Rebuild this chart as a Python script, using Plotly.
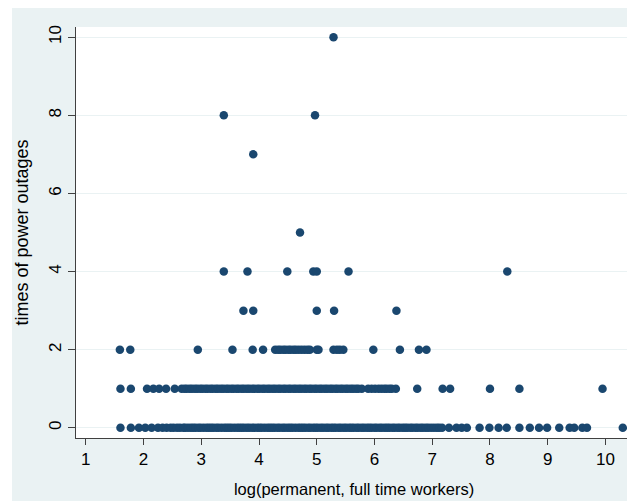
import plotly.graph_objects as go

# Data (x = log(permanent, full time workers), y = times of power outages)
x_y0 = [1.60, 1.78, 1.92, 2.03, 2.14, 2.25, 2.33, 2.40, 2.47, 2.52, 2.58, 2.63, 2.69, 2.72, 2.77,
        2.82, 2.86, 2.90, 2.95, 2.99, 3.04, 3.09, 3.13, 3.17, 3.21, 3.26, 3.30, 3.35, 3.40, 3.44,
        3.48, 3.52, 3.57, 3.62, 3.66, 3.70, 3.74, 3.79, 3.83, 3.88, 3.92, 3.97, 4.01, 4.05, 4.10,
        4.15, 4.19, 4.23, 4.27, 4.32, 4.36, 4.41, 4.45, 4.50, 4.54, 4.58, 4.63, 4.68, 4.72, 4.76,
        4.80, 4.85, 4.89, 4.94, 4.98, 5.02, 5.07, 5.11, 5.16, 5.20, 5.25, 5.29, 5.33, 5.38, 5.42,
        5.47, 5.51, 5.56, 5.60, 5.64, 5.69, 5.73, 5.78, 5.82, 5.87, 5.91, 5.95, 6.00, 6.04, 6.09,
        6.13, 6.18, 6.22, 6.26, 6.31, 6.35, 6.40, 6.44, 6.49, 6.53, 6.57, 6.62, 6.66, 6.71, 6.75,
        6.80, 6.84, 6.89, 6.93, 6.98, 7.03, 7.08, 7.12, 7.17, 7.29, 7.42, 7.51, 7.60, 7.82, 7.99,
        8.15, 8.29, 8.51, 8.69, 8.85, 8.99, 9.20, 9.38, 9.46, 9.60, 9.68, 10.30]

x_y1 = [1.60, 1.78, 2.06, 2.17, 2.27, 2.39, 2.54, 2.66, 2.71, 2.75, 2.80, 2.84, 2.89, 2.93,
        2.98, 3.02, 3.07, 3.11, 3.16, 3.20, 3.25, 3.29, 3.34, 3.38, 3.43, 3.47, 3.52, 3.56, 3.61,
        3.65, 3.70, 3.74, 3.79, 3.83, 3.88, 3.92, 3.97, 4.01, 4.06, 4.10, 4.15, 4.19, 4.24, 4.28,
        4.33, 4.37, 4.42, 4.46, 4.51, 4.55, 4.60, 4.64, 4.69, 4.73, 4.78, 4.82, 4.87, 4.91, 4.96,
        5.00, 5.05, 5.09, 5.14, 5.18, 5.23, 5.27, 5.32, 5.36, 5.41, 5.45, 5.50, 5.54, 5.59, 5.63,
        5.68, 5.72, 5.78, 5.89, 5.95, 6.01, 6.07, 6.12, 6.17, 6.21, 6.26, 6.30, 6.37, 6.74, 7.18,
        7.31, 8.00, 8.51, 9.95]

x_y2 = [1.59, 1.77, 2.94, 3.54, 3.89, 4.07, 4.28, 4.33, 4.37, 4.42, 4.46, 4.51, 4.55, 4.60,
        4.64, 4.69, 4.74, 4.79, 4.84, 4.88, 5.00, 5.03, 5.29, 5.35, 5.40, 5.46, 5.98, 6.44, 6.77,
        6.90]
x_y3 = [3.73, 3.90, 5.00, 5.30, 6.38]
x_y4 = [3.39, 3.80, 4.49, 4.94, 5.00, 5.55, 8.30]
x_y5 = [4.71]
x_y7 = [3.90]
x_y8 = [3.39, 4.97]
x_y10 = [5.29]

groups = [(0, x_y0), (1, x_y1), (2, x_y2), (3, x_y3), (4, x_y4),
          (5, x_y5), (7, x_y7), (8, x_y8), (10, x_y10)]

xs, ys = [], []
for yv, xl in groups:
    xs.extend(xl)
    ys.extend([yv] * len(xl))

x_ticks = [1, 2, 3, 4, 5, 6, 7, 8, 9, 10]
y_ticks = [0, 2, 4, 6, 8, 10]

NAVY = "#1A476F"
BG = "#EAF2F3"
FONT = "Liberation Sans, Arial, sans-serif"

fig = go.Figure(go.Scatter(
    x=xs, y=ys, mode="markers",
    marker=dict(color=NAVY, size=8.5, line=dict(width=0)),
    cliponaxis=False,
    hoverinfo="x+y",
))

# The page body adds an 8px margin, so the figure occupies (8,8)-(635,501)
W, H = 627, 493
ml, mr, mt, mb = 68, 3, 19, 63
pw, ph = W - ml - mr, H - mt - mb

fig.update_layout(
    width=W, height=H,
    margin=dict(l=ml, r=mr, t=mt, b=mb, autoexpand=False),
    paper_bgcolor=BG,
    plot_bgcolor="white",
    showlegend=False,
    font=dict(family=FONT, color="#000000", size=16),
    xaxis=dict(
        range=[0.83, 10.46], tickvals=x_ticks, ticktext=[str(t) for t in x_ticks],
        showgrid=False, zeroline=False, automargin=False,
        showline=True, linecolor="#404040", linewidth=1,
        ticks="outside", ticklen=6, tickcolor="#404040",
        tickfont=dict(size=17),
        title=dict(text="log(permanent, full time workers)", font=dict(size=16.5), standoff=15),
    ),
    yaxis=dict(
        range=[-0.26, 10.26], tickvals=y_ticks, ticktext=[str(t) for t in y_ticks],
        showgrid=True, gridcolor=BG, gridwidth=1, zeroline=False, automargin=False,
        showline=True, linecolor="#404040", linewidth=1,
        ticks="outside", ticklen=7, tickcolor="#404040",
        tickangle=-90, tickfont=dict(size=17),
        title=dict(text="times of power outages", font=dict(size=18), standoff=12),
    ),
    shapes=[
        # thin white strip on the left edge of the graph region, as in the reference
        dict(type="rect", xref="paper", yref="paper",
             x0=-ml / pw, x1=(4 - ml) / pw, y0=-mb / ph, y1=(ph + mt) / ph,
             fillcolor="white", line=dict(width=0), layer="below"),
    ],
)

fig.write_html("out.html")
